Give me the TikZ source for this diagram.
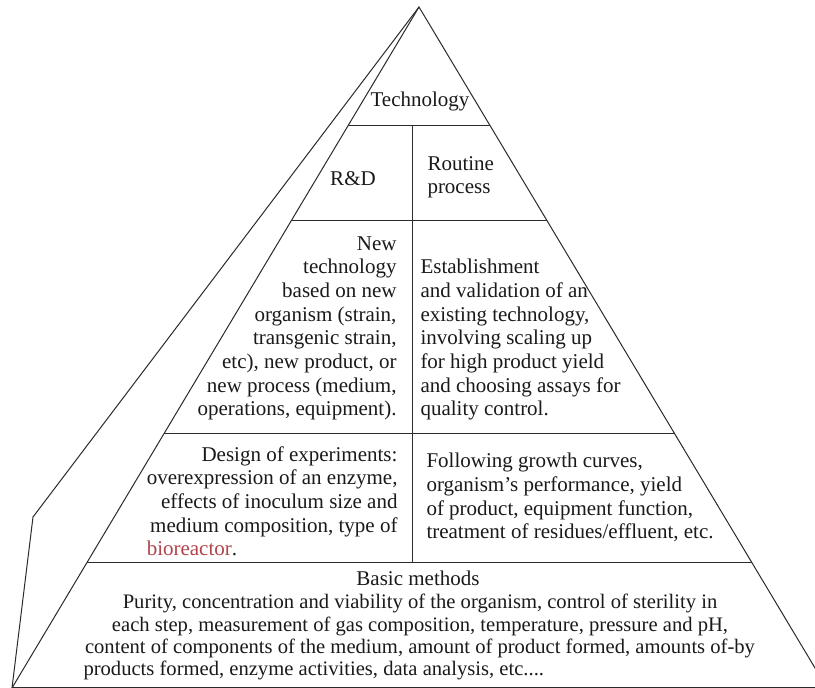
\documentclass[tikz,border=0pt]{standalone}
\usepackage{fontspec}
\setmainfont{Liberation Serif}
\usepackage{calc}
\usetikzlibrary{calc}
\definecolor{ink}{HTML}{1A1A1A}
\definecolor{edge}{HTML}{2B2B2B}
\definecolor{baseline}{HTML}{C8C8C8}
\definecolor{redword}{HTML}{B0444A}
\tikzset{
  every picture/.style={line width=1pt, draw=edge, text=ink},
  lbl/.style={font=\fontsize{21}{23.7}\selectfont, inner sep=0pt},
  leftcol/.style={lbl, align=right, anchor=base east},
  rightcol/.style={lbl, align=left, anchor=base west},
}

\begin{document}
\begin{tikzpicture}[x=1pt, y=1pt]
\useasboundingbox (0,0) rectangle (815,688);
\clip (0,0) rectangle (815,688);
\fill[white] (0,0) rectangle (815,688);
\coordinate (apex) at (419,681);
\coordinate (bl) at (12,0);
\coordinate (br) at (827,0);
\coordinate (kink) at (33,171);
\coordinate (divx) at (412,0);
% faces of the pyramid
\draw[baseline] (bl) -- (br);
\draw (bl) -- (apex) -- (br);
\draw (apex) -- (kink) -- (bl);
% tiers
\foreach \h/\n in {562/ta, 467/tb, 254/tc, 125/td} {
  \coordinate (\n l) at ($(apex)!{(681-\h)/681}!(bl)$);
  \coordinate (\n r) at ($(apex)!{(681-\h)/681}!(br)$);
  \draw (\n l) -- (\n r);
}
\draw (tal -| divx) -- (tdl -| divx);
% labels (multi-line nodes sit on their last line)
\node[lbl, anchor=base] (tech) at (420,581) {Technology};
\node[lbl, anchor=base] (rd) at (353,502) {R\&D};
\node[rightcol] (routine) at (427,494) {Routine\\process};
\node[leftcol] (newtech) at (397,272) {New\\technology\\based on new\\organism (strain,\\transgenic strain,\\etc), new product, or\\new process (medium,\\operations, equipment).};
\node[rightcol] (establish) at (420,272) {Establishment\\and validation of an\\existing technology,\\involving scaling up\\for high product yield\\and choosing assays for\\quality control.};
\node[leftcol] (design) at (398,132) {Design of experiments:\\overexpression of an enzyme,\\effects of inoculum size and\\medium composition, type of\\\makebox[\widthof{overexpression of an enzyme,}][l]{\textcolor{redword}{bioreactor}.}};
\node[rightcol] (following) at (426,149) {Following growth curves,\\organism’s performance, yield\\of product, equipment function,\\treatment of residues/effluent, etc.};
\node[lbl, anchor=base] (basic) at (418,102) {Basic methods};
\node[lbl, align=center, anchor=base, font=\fontsize{20.6}{22.6}\selectfont] (methods) at (420,34) {Purity, concentration and viability of the organism, control of sterility in\\each step, measurement of gas composition, temperature, pressure and pH,\\content of components of the medium, amount of product formed, amounts of-by};
\node[lbl, anchor=base west, font=\fontsize{20.6}{22.6}\selectfont] (methodsend) at (83,12) {products formed, enzyme activities, data analysis, etc....};
\end{tikzpicture}
\end{document}
